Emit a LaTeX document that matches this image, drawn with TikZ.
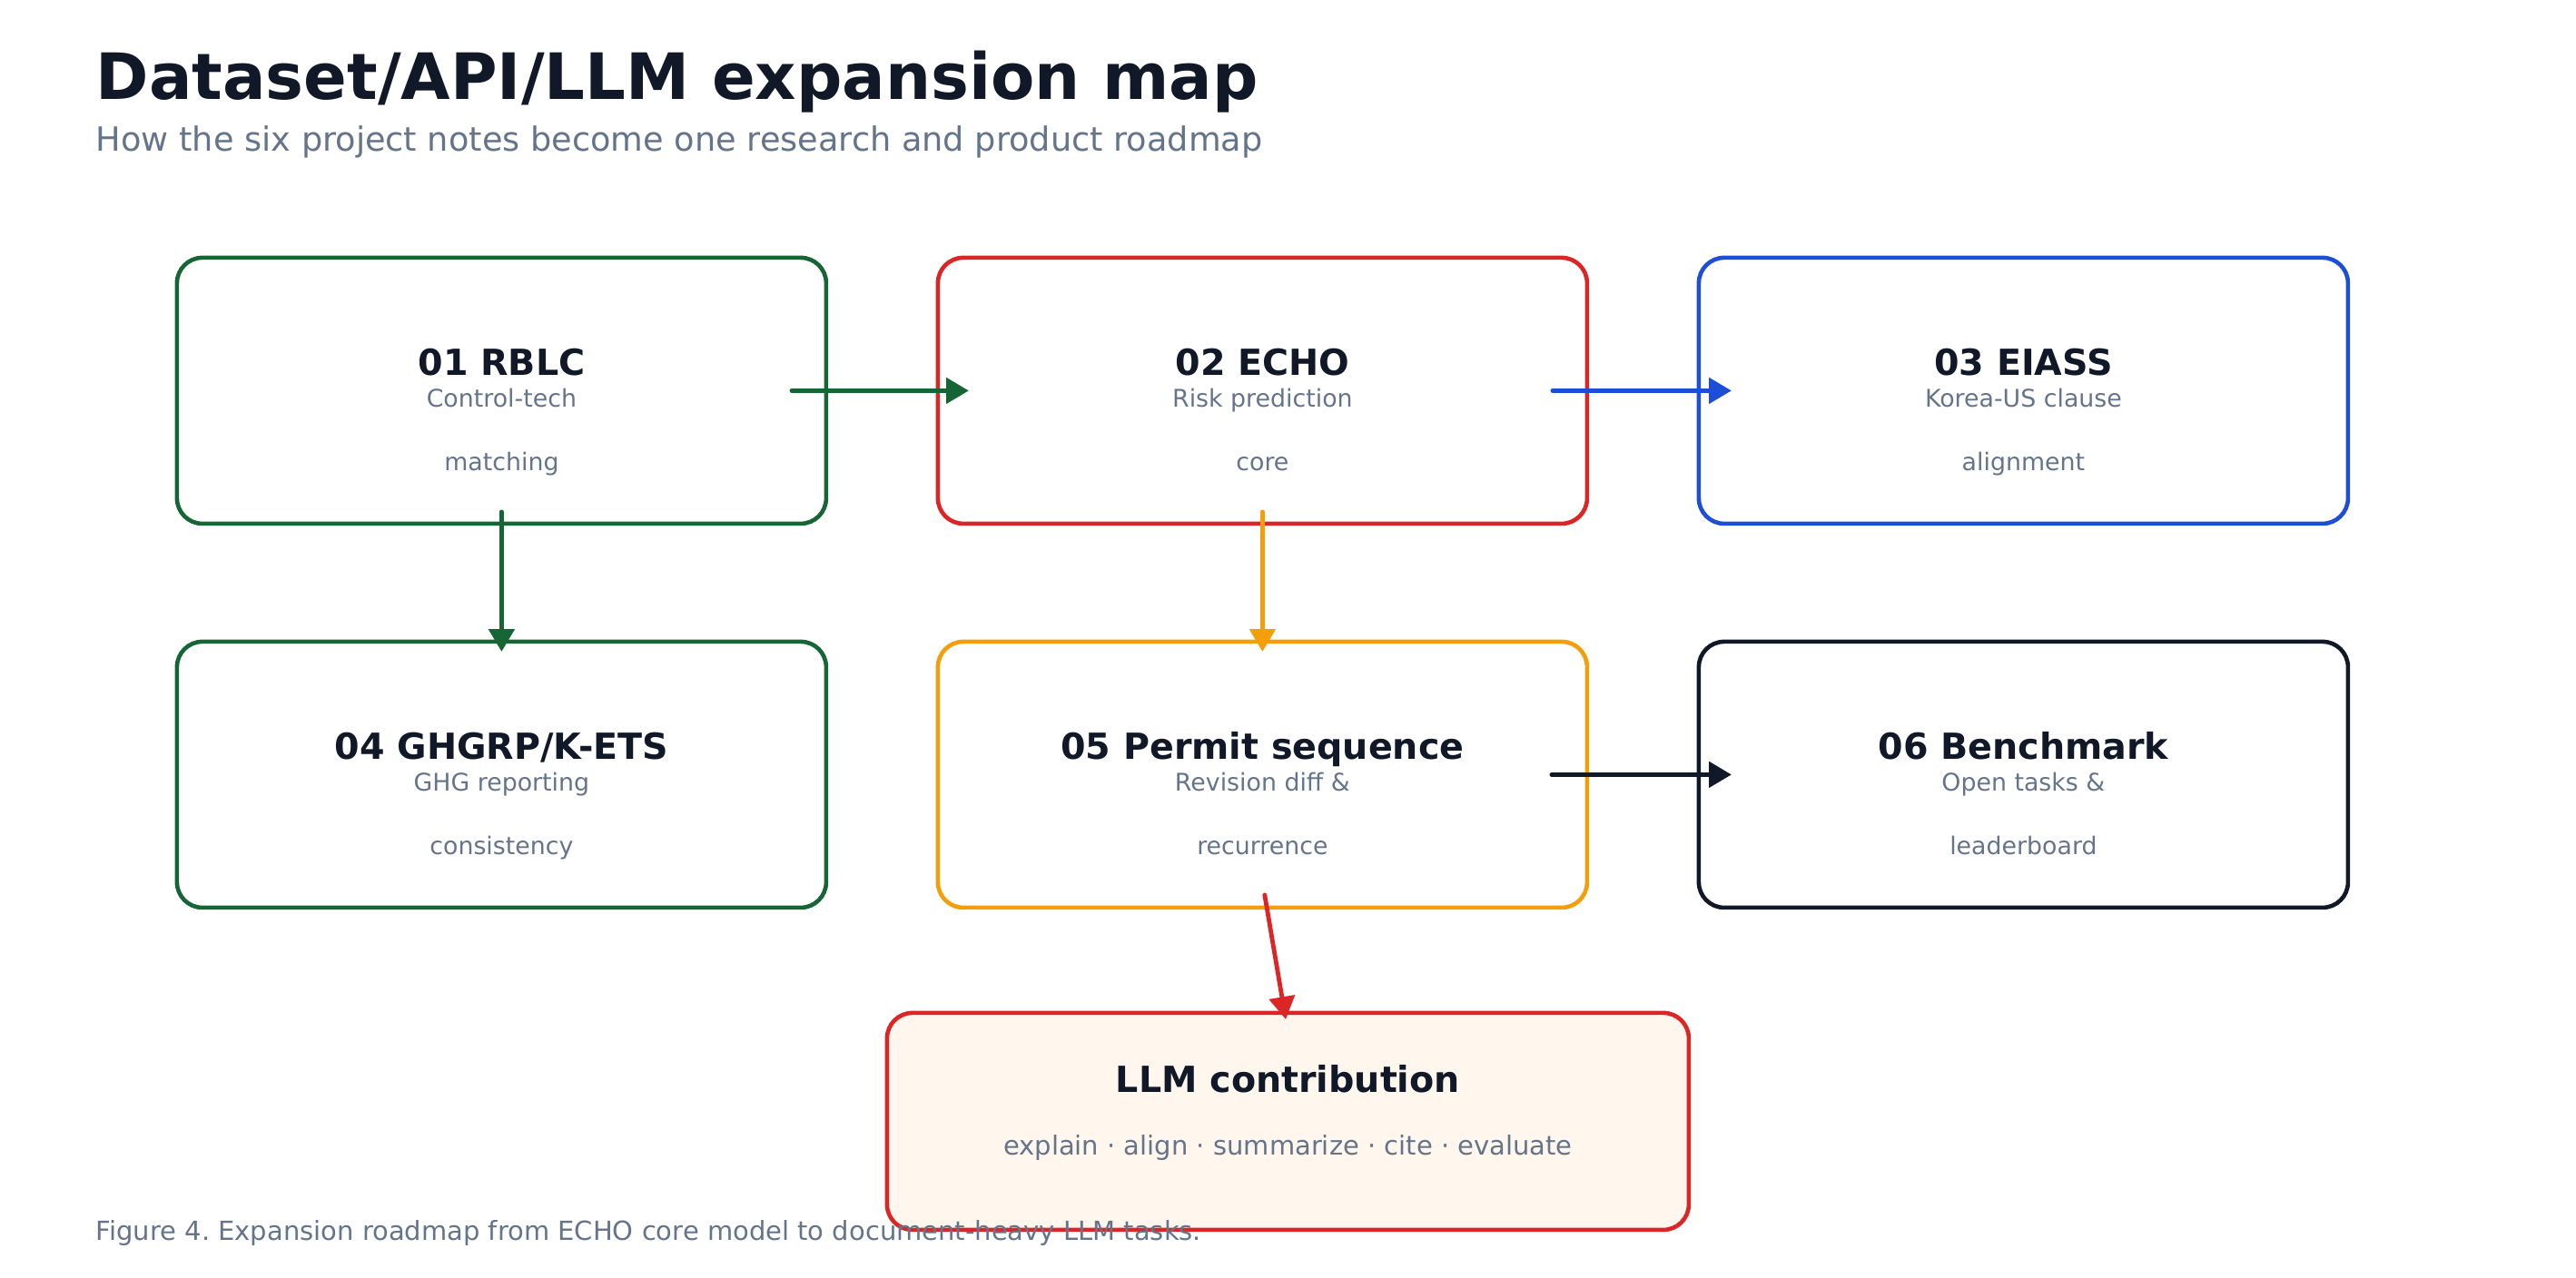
\documentclass[tikz,border=0pt]{standalone}
\usepackage{fontspec}
\setmainfont{DejaVu Sans}
\usepackage{xcolor}
\usepackage{tikz}
\usetikzlibrary{arrows.meta, positioning}
\definecolor{rblcgreen}{HTML}{166534}
\definecolor{echored}{HTML}{DC2626}
\definecolor{eiassblue}{HTML}{1D4ED8}
\definecolor{permitamber}{HTML}{F59E0B}
\definecolor{inkdark}{HTML}{111827}
\definecolor{slatetext}{HTML}{64748B}
\definecolor{llmfill}{HTML}{FFF7ED}
\frenchspacing

\begin{document}
\begin{tikzpicture}[
  node distance=32.5pt and 30.75pt,
  box/.style={rectangle, draw, rounded corners=7pt, line width=1.15pt, outer sep=0pt,
              minimum width=178.75pt, minimum height=73.25pt, inner sep=0pt},
  head/.style={anchor=base, inner sep=0pt, text=inkdark,
               font=\fontsize{9.9}{12}\selectfont\bfseries},
  sub/.style={anchor=base, inner sep=0pt, text=slatetext,
              font=\fontsize{6.7}{8}\selectfont},
  arr/.style={-{Triangle[length=6.2pt, width=7pt]}, line width=1.2pt, line cap=round}
]
\useasboundingbox (0,0) rectangle (709.25pt,-351.75pt);

% ===== Heading =====
\node[anchor=base west, inner sep=0pt, text=inkdark,
      font=\fontsize{17.6}{20}\selectfont\bfseries] (title) at (26.25pt,-27.3pt)
      {Dataset/API/LLM expansion map};
\node[anchor=base west, inner sep=0pt, text=slatetext,
      font=\fontsize{9.17}{11}\selectfont] (subtitle) at (26.25pt,-41.6pt)
      {How the six project notes become one research and product roadmap};

% ===== Boxes =====
\node[box, draw=rblcgreen] (rblc) at (138.1pt,-107.6pt) {};
\node[box, draw=echored, right=of rblc]      (echo)   {};
\node[box, draw=eiassblue, right=of echo]    (eiass)  {};
\node[box, draw=rblcgreen, below=of rblc]    (ghg)    {};
\node[box, draw=permitamber, below=of echo]  (permit) {};
\node[box, draw=inkdark, below=of eiass]     (bench)  {};
\node[box, draw=echored, fill=llmfill, minimum width=220.75pt, minimum height=59.75pt,
      below=29pt of permit, xshift=7pt] (llm) {};

% ===== Box texts =====
\node[head] (rblc-t) at ([yshift=-32.4pt]rblc.north)  {01 RBLC};
\node[sub]  (rblc-a) at ([yshift=-41.1pt]rblc.north) {Control-tech};
\node[sub]  (rblc-b) at ([yshift=-58.6pt]rblc.north) {matching};

\node[head] (echo-t) at ([yshift=-32.4pt]echo.north)  {02 ECHO};
\node[sub]  (echo-a) at ([yshift=-41.1pt]echo.north) {Risk prediction};
\node[sub]  (echo-b) at ([yshift=-58.6pt]echo.north) {core};

\node[head] (eiass-t) at ([yshift=-32.4pt]eiass.north)  {03 EIASS};
\node[sub]  (eiass-a) at ([yshift=-41.1pt]eiass.north) {Korea-US clause};
\node[sub]  (eiass-b) at ([yshift=-58.6pt]eiass.north) {alignment};

\node[head] (ghg-t) at ([yshift=-32.4pt]ghg.north)  {04 GHGRP/K-ETS};
\node[sub]  (ghg-a) at ([yshift=-41.1pt]ghg.north) {GHG reporting};
\node[sub]  (ghg-b) at ([yshift=-58.6pt]ghg.north) {consistency};

\node[head] (permit-t) at ([yshift=-32.4pt]permit.north)  {05 Permit sequence};
\node[sub]  (permit-a) at ([yshift=-41.1pt]permit.north) {Revision diff \&};
\node[sub]  (permit-b) at ([yshift=-58.6pt]permit.north) {recurrence};

\node[head] (bench-t) at ([yshift=-32.4pt]bench.north)  {06 Benchmark};
\node[sub]  (bench-a) at ([yshift=-41.1pt]bench.north) {Open tasks \&};
\node[sub]  (bench-b) at ([yshift=-58.6pt]bench.north) {leaderboard};

\node[head] (llm-t) at ([yshift=-22pt]llm.north) {LLM contribution};
\node[sub, font=\fontsize{7.25}{9}\selectfont] (llm-a) at ([yshift=-39.2pt]llm.north)
     {explain · align · summarize · cite · evaluate};

% ===== Arrows =====
\draw[arr, rblcgreen]   ([xshift=-9.5pt]rblc.east)    -- ([xshift=8.5pt]echo.west);
\draw[arr, eiassblue]   ([xshift=-9.5pt]echo.east)    -- ([xshift=9pt]eiass.west);
\draw[arr, rblcgreen]   ([yshift=3.25pt]rblc.south)   -- ([yshift=-2.75pt]ghg.north);
\draw[arr, permitamber] ([yshift=3.25pt]echo.south)   -- ([yshift=-2.75pt]permit.north);
\draw[arr, inkdark]     ([xshift=-9.75pt]permit.east) -- ([xshift=9pt]bench.west);
\draw[arr, echored]     ([xshift=0.6pt,yshift=3.5pt]permit.south) -- ([xshift=-0.6pt,yshift=-1.75pt]llm.north);

% ===== Caption =====
\node[anchor=base west, inner sep=0pt, text=slatetext,
      font=\fontsize{7.25}{9}\selectfont] (caption) at (26.25pt,-341.7pt)
      {Figure 4. Expansion roadmap from ECHO core model to document-heavy LLM tasks.};

\end{tikzpicture}
\end{document}
